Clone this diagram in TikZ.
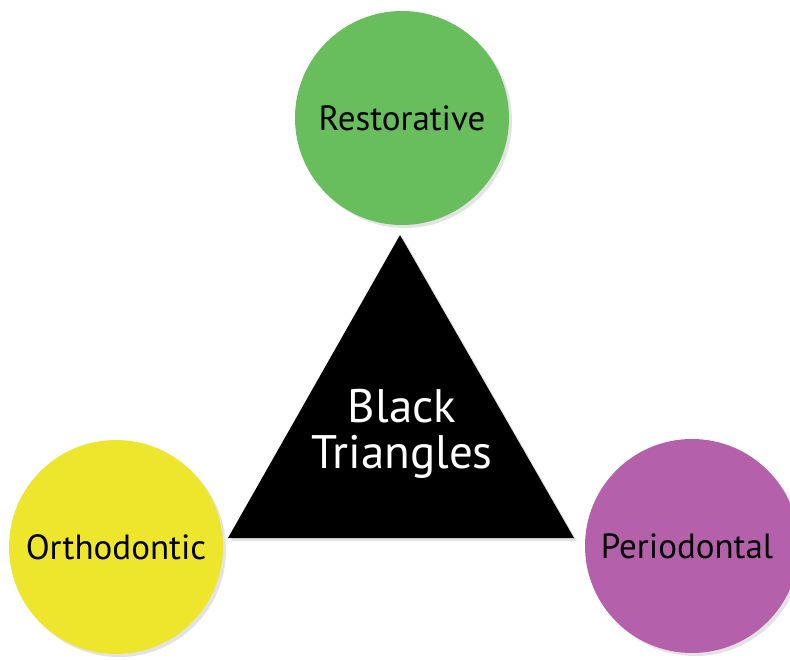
\documentclass[tikz,border=0pt]{standalone}
\usepackage{fontspec}
\setmainfont{PT Sans}
\usetikzlibrary{shadows}
\definecolor{cgreen}{RGB}{104,189,92}
\definecolor{cyellow}{RGB}{237,230,44}
\definecolor{cpurple}{RGB}{180,96,170}
\tikzset{
  topic/.style={circle, minimum size=214pt, inner sep=0pt, text=black,
    font=\fontsize{35}{38}\selectfont,
    drop shadow={opacity=0.22, shadow xshift=3pt, shadow yshift=-3pt}},
}
\begin{document}
\begin{tikzpicture}[x=1pt,y=-1pt]
\useasboundingbox (0,0) rectangle (790,660);
\fill[white] (0,0) rectangle (790,660);
\node[topic, fill=cgreen] (rest) at (402,118) {Restorative};
\node[topic, fill=cyellow] (orth) at (116,547) {Orthodontic};
\node[topic, fill=cpurple, text width=200pt, align=center] (peri) at (692,546) {\hspace*{-10pt}Periodontal};
\coordinate (apex) at (400,235);
\coordinate (bl) at (228,538);
\coordinate (br) at (574,538);
\fill[black, drop shadow={opacity=0.22, shadow xshift=3pt, shadow yshift=-3pt}] (apex) -- (br) -- (bl) -- cycle;
\node[text=white, align=center, font=\fontsize{47}{46}\selectfont] (bt) at (402,434) {Black\\Triangles};
\end{tikzpicture}
\end{document}
